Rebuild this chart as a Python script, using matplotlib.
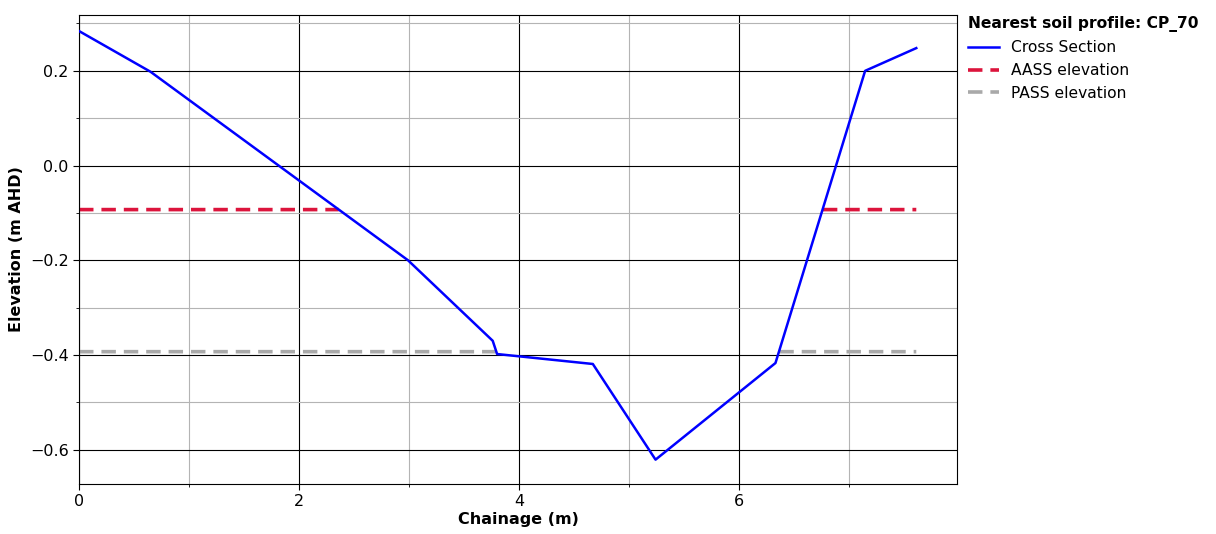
import matplotlib.pyplot as plt
import numpy as np
from matplotlib.ticker import MultipleLocator

# cross-section surface (chainage m, elevation m AHD)
chainage = [0.0, 0.65, 2.99, 3.76, 3.80, 4.67, 5.24, 6.33, 7.145, 7.61]
elevation = [0.284, 0.198, -0.200, -0.370, -0.398, -0.419, -0.621, -0.417, 0.200, 0.248]

profile_name = "CP_70"
aass_level = -0.093
pass_level = -0.393


def level_above_ground(level, x_fine, ground):
    """Level line, blanked where the ground surface is below it."""
    return np.where(ground >= level, level, np.nan)


x_fine = np.linspace(chainage[0], chainage[-1], 2000)
ground = np.interp(x_fine, chainage, elevation)

fig = plt.figure(figsize=(12.16, 5.34), dpi=100)
ax = fig.add_axes([0.065, 0.094, 0.722, 0.878])

ax.plot(chainage, elevation, color="blue", lw=1.8, label="Cross Section", zorder=3)
ax.plot(x_fine, level_above_ground(aass_level, x_fine, ground), color="crimson",
        lw=2.6, ls=(0, (4, 2.2)), label="AASS elevation", zorder=2)
ax.plot(x_fine, level_above_ground(pass_level, x_fine, ground), color="darkgray",
        lw=2.6, ls=(0, (4, 2.2)), label="PASS elevation", zorder=2)

ax.set_xlim(0, 7.98)
ax.set_ylim(-0.672, 0.318)
ax.xaxis.set_major_locator(MultipleLocator(2))
ax.xaxis.set_minor_locator(MultipleLocator(1))
ax.yaxis.set_major_locator(MultipleLocator(0.2))
ax.yaxis.set_minor_locator(MultipleLocator(0.1))
ax.grid(which="major", color="black", lw=0.8)
ax.grid(which="minor", color="#b4b4b4", lw=0.8)
ax.tick_params(which="major", labelsize=11.5, length=4)
ax.tick_params(which="minor", length=2)

ax.set_xlabel("Chainage (m)", fontsize=11.5, fontweight="bold", labelpad=2)
ax.set_ylabel("Elevation (m AHD)", fontsize=11.5, fontweight="bold")

leg = ax.legend(loc="upper left", bbox_to_anchor=(1.0, 1.02), frameon=False,
                title=f"Nearest soil profile: {profile_name}", fontsize=11.2,
                title_fontproperties={"weight": "bold", "size": 11.2},
                alignment="left", handlelength=2.0, borderaxespad=0.3,
                labelspacing=0.5)

fig.savefig("out.png", dpi=100)
